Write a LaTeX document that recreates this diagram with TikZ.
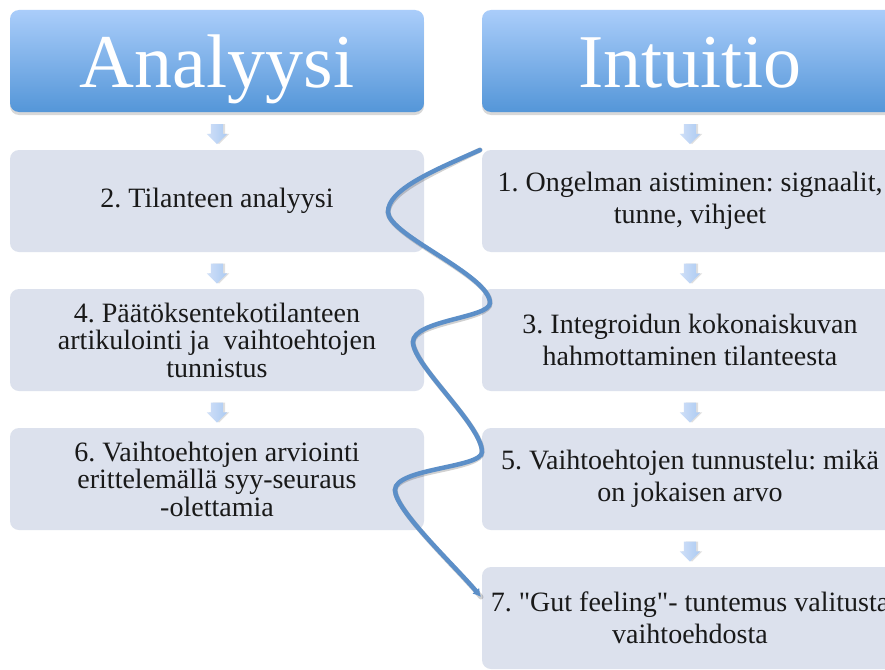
\documentclass[tikz,border=0pt]{standalone}
\usepackage{fontspec}
\setmainfont{Liberation Serif}[Ligatures=TeXOff]
\frenchspacing
\usetikzlibrary{arrows.meta,shapes.arrows,shadows,calc}
\definecolor{hdtop}{RGB}{170,205,250}
\definecolor{hdbot}{RGB}{84,150,216}
\definecolor{boxfill}{RGB}{220,225,237}
\definecolor{curvec}{RGB}{92,143,200}
\definecolor{arrtop}{RGB}{208,224,248}
\definecolor{arrbot}{RGB}{172,202,242}
\begin{document}
\begin{tikzpicture}[x=1pt,y=-1pt,
  hdr/.style={rounded corners=9pt, top color=hdtop, bottom color=hdbot,
    minimum height=102pt, inner sep=0pt, text=white,
    text height=60pt, text depth=8pt,
    font=\fontsize{76}{80}\selectfont,
    drop shadow={shadow xshift=0pt, shadow yshift=-3pt, opacity=0.3}},
  stepbox/.style={rounded corners=9pt, fill=boxfill, minimum height=102pt,
    inner sep=0pt, align=center, text=black!90},
  twoline/.style={stepbox, font=\fontsize{28}{32}\selectfont},
  threeline/.style={stepbox, font=\fontsize{28}{27.5}\selectfont},
  smallarr/.style={single arrow, rotate=-90, minimum height=20pt,
    inner sep=6pt, single arrow head extend=4pt, draw=none,
    left color=arrtop, right color=arrbot,
    drop shadow={shadow xshift=2pt, shadow yshift=0pt, opacity=0.25}},
  curve/.style={draw=curvec, line width=4.5pt, line cap=round,
    -{Latex[length=8pt,width=9pt]}},
  curveshadow/.style={draw=black, opacity=0.18, line width=5pt, line cap=round}
]
\useasboundingbox (0,0) rectangle (885,669);
\clip (0,0) rectangle (885,669);
\fill[white] (0,0) rectangle (885,669);

% headers
\node[hdr, minimum width=414pt] (h1) at (217,61) {Analyysi};
\node[hdr, minimum width=416pt] (h2) at (690,61) {Intuitio};

% left column
\node[twoline, minimum width=414pt] (l1) at (217,201) {2. Tilanteen analyysi};
\node[threeline, minimum width=414pt] (l2) at (217,340) {4. Päätöksentekotilanteen\\artikulointi ja~ vaihtoehtojen\\tunnistus};
\node[threeline, minimum width=414pt] (l3) at (217,479) {6. Vaihtoehtojen arviointi\\erittelemällä syy-seuraus\\-olettamia};

% right column
\node[twoline, minimum width=416pt] (r1) at (690,201) {1. Ongelman aistiminen: signaalit,\\tunne, vihjeet};
\node[twoline, minimum width=416pt] (r2) at (690,340) {3. Integroidun kokonaiskuvan\\hahmottaminen tilanteesta};
\node[twoline, minimum width=416pt] (r3) at (690,479) {5. Vaihtoehtojen tunnustelu: mikä\\on jokaisen arvo};
\node[twoline, minimum width=416pt] (r4) at (690,618) {7. "Gut feeling"- tuntemus valitusta\\vaihtoehdosta};

% small arrows
\node[smallarr] (a1) at ($(h1.south)!0.5!(l1.north)$) {};
\node[smallarr] (a2) at ($(l1.south)!0.5!(l2.north)$) {};
\node[smallarr] (a3) at ($(l2.south)!0.5!(l3.north)$) {};
\node[smallarr] (b1) at ($(h2.south)!0.5!(r1.north)$) {};
\node[smallarr] (b2) at ($(r1.south)!0.5!(r2.north)$) {};
\node[smallarr] (b3) at ($(r2.south)!0.5!(r3.north)$) {};
\node[smallarr] (b4) at ($(r3.south)!0.5!(r4.north)$) {};

% curve
\coordinate (c0) at (480,150);
\coordinate (c1) at (388,212);
\coordinate (c2) at (490,303);
\coordinate (c3) at (413,342);
\coordinate (c4) at (482,452);
\coordinate (c5) at (395,490);
\coordinate (c6) at (481,597);
\draw[curveshadow, xshift=1.5pt, yshift=-2pt] (c0) .. controls (430,172) and (388,190) .. (c1)
  .. controls (388,235) and (490,275) .. (c2)
  .. controls (490,318) and (413,320) .. (c3)
  .. controls (413,365) and (482,425) .. (c4)
  .. controls (482,468) and (395,468) .. (c5)
  .. controls (395,510) and (455,566) .. (c6);
\draw[curve] (c0) .. controls (430,172) and (388,190) .. (c1)
  .. controls (388,235) and (490,275) .. (c2)
  .. controls (490,318) and (413,320) .. (c3)
  .. controls (413,365) and (482,425) .. (c4)
  .. controls (482,468) and (395,468) .. (c5)
  .. controls (395,510) and (455,566) .. (c6);
\end{tikzpicture}
\end{document}
